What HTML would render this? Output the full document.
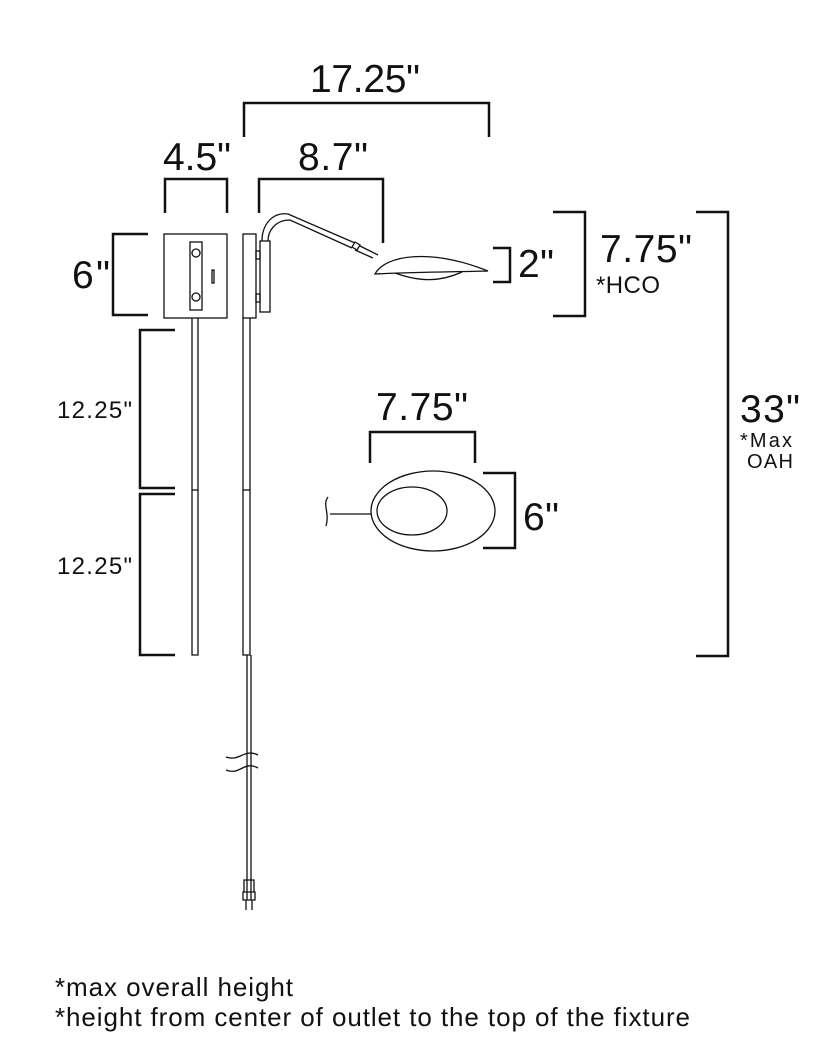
<!DOCTYPE html>
<html><head><style>body{margin:0;background:#fff}svg{display:block}text{font-family:"Liberation Sans",sans-serif;fill:#111}</style></head>
<body>
<svg width="835" height="1042" viewBox="0 0 835 1042" xmlns="http://www.w3.org/2000/svg">
<g fill="none" stroke="#111" stroke-width="2.5">
<path d="M244 137V103H489V137"/>
<path d="M165 213V179H227V213"/>
<path d="M259 213V179H383V243"/>
<path d="M148 234H113V315H148"/>
<path d="M175 330H140V488H175"/>
<path d="M175 494H140V655H175"/>
<path d="M493 248H510V282H493"/>
<path d="M553 212H585V316H553"/>
<path d="M696 212H728V656H696"/>
<path d="M370 463V432H475V463"/>
<path d="M483 473H515V548H483"/>
</g>
<g fill="none" stroke="#111" stroke-width="1.3">
<rect x="164" y="234" width="63" height="84"/>
<rect x="190" y="242" width="12" height="68"/>
<circle cx="196" cy="253" r="4"/><circle cx="196" cy="297" r="4"/>
<rect x="212" y="270" width="2" height="13"/>
<rect x="243" y="234" width="13" height="84"/>
<rect x="260" y="241" width="10" height="71"/>
<rect x="256" y="251" width="4" height="8"/><rect x="256" y="294" width="4" height="8"/>
<path d="M262 241C262 225 272 212 288 214L355 243"/>
<path d="M268 241C268 230 276 220 290 220L352 248"/>
<path d="M355 242l5 3-3 5-5-3zM360 246L378 255M355 250L373 258"/>
<path d="M375 274C385 255 430 248 488 271C450 272 420 272 375 274Z"/>
<path d="M395 273C420 282 440 282 462 272"/>
<path d="M192 318V655H198V318"/><path d="M192 490H198"/>
<path d="M243 318V655H250V318"/><path d="M243 490H250"/>
<path d="M247 655V900M251 655V900"/>
<path d="M226 757C240 762 244 748 258 755M226 770C240 776 244 760 258 768"/>
<path d="M244 880h10v12h-10zM243 892h12v8h-12zM246 900v10M252 900v10"/>
<ellipse cx="433" cy="511" rx="62" ry="40"/>
<ellipse cx="412" cy="511" rx="35" ry="24"/>
<path d="M371 514H330M328 497C322 505 330 512 326 526"/>
</g>
<g font-size="39">
<text x="310" y="92" textLength="110">17.25"</text>
<text x="163" y="170" textLength="68">4.5"</text>
<text x="298" y="170" textLength="70">8.7"</text>
<text x="72" y="288" textLength="38">6"</text>
<text x="518" y="277" textLength="36">2"</text>
<text x="600" y="262" textLength="92">7.75"</text>
<text x="740" y="422" textLength="60">33"</text>
<text x="376" y="420" textLength="92">7.75"</text>
<text x="523" y="530" textLength="36">6"</text>
</g>
<g font-size="24">
<text x="57" y="418" textLength="75">12.25"</text>
<text x="57" y="574" textLength="75">12.25"</text>
<text x="596" y="293" textLength="64">*HCO</text>
<text x="740" y="447" font-size="20" textLength="52">*Max</text>
<text x="747" y="468" font-size="20" textLength="46">OAH</text>
<text x="55" y="996" font-size="26" textLength="238">*max overall height</text>
<text x="55" y="1026" font-size="26" textLength="635">*height from center of outlet to the top of the fixture</text>
</g>
</svg>
</body></html>
